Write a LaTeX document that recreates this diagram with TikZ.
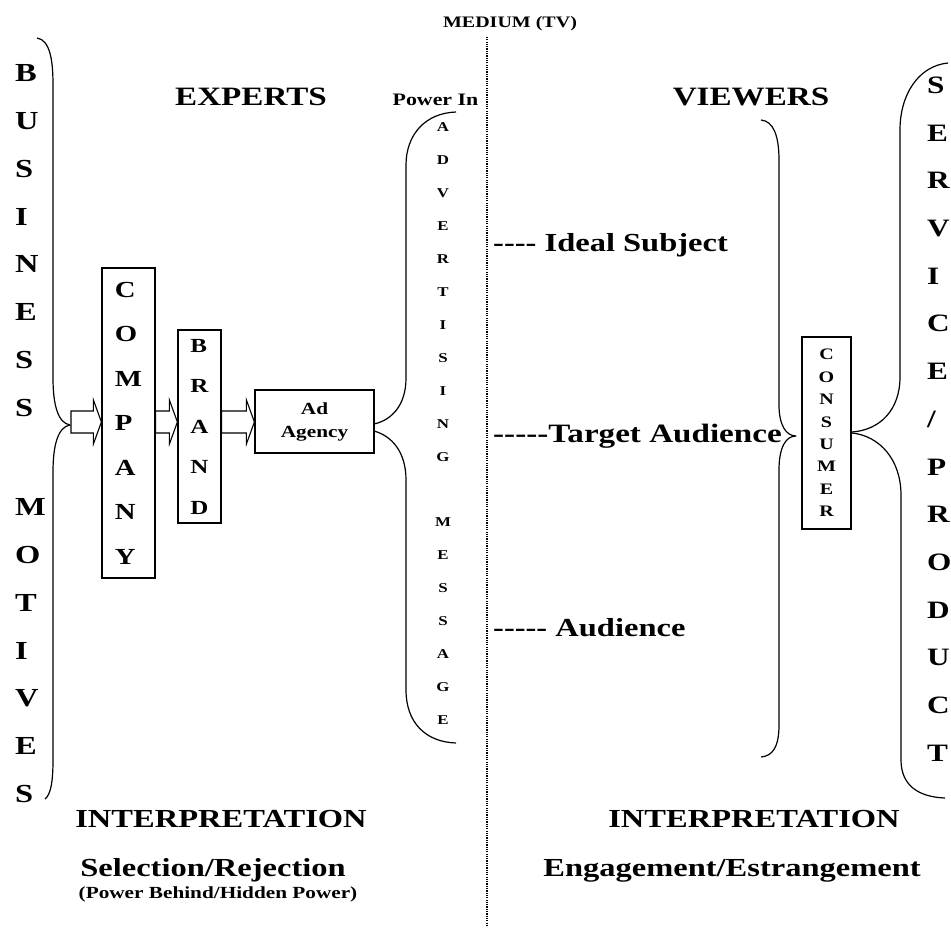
\documentclass[tikz,border=0pt]{standalone}
\usepackage{fontspec}
\setmainfont{Liberation Serif}[FakeStretch=1.25, Ligatures=TeXOff]
\usetikzlibrary{calc}
\newcommand\fb[2]{\bfseries\fontsize{#1}{#2}\selectfont}
% block arrow from #1 (tail centre) to #2 (tip)
\newcommand\blockarrow[2]{%
  \draw[barrow] ($(#1)+(0,-11)$) -- ($(#2)+(-8,-11)$) -- ($(#2)+(-8,-22)$) -- (#2)
    -- ($(#2)+(-8,22)$) -- ($(#2)+(-8,11)$) -- ($(#1)+(0,11)$) -- cycle;}
\begin{document}
\begin{tikzpicture}[x=1pt,y=-1pt,
  every node/.style={inner sep=0pt},
  box/.style={draw, line width=1.2pt},
  curve/.style={line width=1.2pt, line join=round},
  barrow/.style={line width=1.1pt, fill=white, line join=miter},
  medium/.style={line width=1.8pt, dash pattern=on 1.2pt off 1.1pt},
  stack/.style={align=left, anchor=north west},
  cstack/.style={align=center, anchor=north},
]
\useasboundingbox (0,0) rectangle (951,928);

% medium divider
\coordinate (mtop) at (487,37);
\coordinate (mbot) at (487,925);
\draw[medium] (mtop) -- (mbot);
\node[anchor=base, font=\fb{16}{16}] (medium) at (510,28) {MEDIUM (TV)};

% headings
\node[anchor=base, font=\fb{26.5}{26.5}] (experts) at (251,106) {EXPERTS};
\node[anchor=base, font=\fb{26.5}{26.5}] (viewers) at (751,106) {VIEWERS};
\node[anchor=base, font=\fb{17.5}{17.5}] (powerin) at (435.5,105.8) {Power In};

% business motives
\node[stack, font=\fb{26}{47.8}] (business) at (15,64.4) {B\\U\\S\\I\\N\\E\\S\\S};
\node[stack, font=\fb{26}{47.8}] (motives) at (15,498.4) {M\\O\\T\\I\\V\\E\\S};
\draw[curve] (37,38) .. controls (50,40) and (53,60) .. (53,85) -- (53,378)
  .. controls (53,405) and (58,423) .. (70,425)
  .. controls (58,427) and (53,445) .. (53,472) -- (53,760)
  .. controls (53,785) and (50,795) .. (45,799);

% company, brand, agency
\node[box, minimum width=53, minimum height=310, align=left, font=\fb{23}{44.5}]
  (company) at (128.5,423) {C\\O\\M\\P\\A\\N\\Y};
\node[box, minimum width=43, minimum height=193, align=left, font=\fb{20}{40.5}]
  (brand) at (199.5,426.5) {B\\R\\A\\N\\D};
\node[box, minimum width=119, minimum height=63, align=center, font=\fb{17}{23}]
  (ad) at (314.5,421.5) {Ad\\Agency};

\coordinate (bm) at (71,422);
\coordinate (a1e) at (company.west |- bm);
\coordinate (a2s) at (company.east |- bm);
\coordinate (a2e) at (brand.west |- bm);
\coordinate (a3s) at (brand.east |- bm);
\coordinate (a3e) at (ad.west |- bm);
\blockarrow{bm}{a1e}
\blockarrow{a2s}{a2e}
\blockarrow{a3s}{a3e}

% advertising message
\draw[curve] (456,112) .. controls (425,113) and (406,135) .. (406,165) -- (406,378)
  .. controls (406,405) and (392,420) .. (374,424);
\draw[curve] (374,431) .. controls (392,436) and (406,452) .. (406,480) -- (406,690)
  .. controls (406,722) and (425,742) .. (456,743);
\node[cstack, font=\fb{13.5}{33}] (advert) at (443,122.5) {A\\D\\V\\E\\R\\T\\I\\S\\I\\N\\G};
\node[cstack, font=\fb{13.5}{33}] (message) at (443,517.5) {M\\E\\S\\S\\A\\G\\E};

% audience levels
\node[anchor=base west, font=\fb{26}{26}] (ideal) at (493,251.6) {---- Ideal Subject};
\node[anchor=base west, font=\fb{26.5}{26.5}] (target) at (493,442.6) {-----Target Audience};
\node[anchor=base west, font=\fb{26}{26}] (audience) at (493,636.6) {----- Audience};

% viewers brace and consumer
\draw[curve] (761,120) .. controls (773,121) and (779,135) .. (779,160) -- (779,405)
  .. controls (779,425) and (786,436) .. (796,436)
  .. controls (786,436) and (779,447) .. (779,470) -- (779,725)
  .. controls (779,748) and (772,756) .. (761,757);
\node[box, minimum width=49, minimum height=192, align=center, font=\fb{16}{22.4}]
  (consumer) at (826.5,433) {C\\O\\N\\S\\U\\M\\E\\R};

% service / product
\draw[curve] (948,63) .. controls (918,66) and (900,95) .. (900,130) -- (900,377)
  .. controls (900,410) and (880,430) .. (852,432);
\draw[curve] (852,433) .. controls (880,436) and (901,460) .. (901,495) -- (901,760)
  .. controls (901,785) and (918,797) .. (945,798);
\node[stack, font=\fb{25}{47.7}] (service) at (927,76.7)
  {S\\E\\R\\V\\I\\C\\E\\/\\P\\R\\O\\D\\U\\C\\T};

% interpretation
\node[anchor=base, font=\fb{26}{26}] (interpL) at (221,827.6) {INTERPRETATION};
\node[anchor=base, font=\fb{26}{26}] (interpR) at (754,827.6) {INTERPRETATION};
\node[anchor=base, font=\fb{26}{26}] (selrej) at (213,876.6) {Selection/Rejection};
\node[anchor=base, font=\fb{26}{26}] (engest) at (732,876.6) {Engagement/Estrangement};
\node[anchor=base, font=\fb{17}{17}] (hidden) at (218,898.6) {(Power Behind/Hidden Power)};
\end{tikzpicture}
\end{document}
